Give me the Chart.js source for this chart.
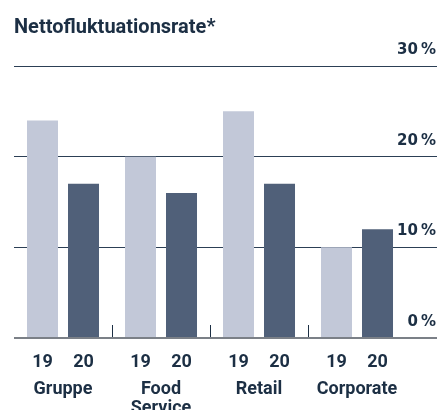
<!DOCTYPE html>
<html>
<head>
<meta charset="utf-8">
<script src="https://cdn.jsdelivr.net/npm/chart.js@4"></script>
<style>
  body { margin: 0; background: #fff; }
  #wrap { width: 438px; height: 410px; }
</style>
</head>
<body>
<div id="wrap"><canvas id="chart"></canvas></div>
<script>
let segments = ["Gruppe", ["Food", "Service"], "Retail", "Corporate"];
let years = ["19", "20"];
let rate2019 = [24, 20, 25, 10];
let rate2020 = [17, 16, 17, 12];
let percentTicks = [0, 10, 20, 30];

let navy = "#1c2f44";
let lineGrey = "#7b8087";

// year number under every bar, taken from the dataset label
let yearLabels = {
    id: "yearLabels",
    afterDraw(chart) {
        let ctx = chart.ctx;
        let top = chart.scales.x.top;
        ctx.save();
        ctx.font = "bold 18px Roboto";
        ctx.fillStyle = navy;
        ctx.textAlign = "center";
        ctx.textBaseline = "alphabetic";
        chart.data.datasets.forEach((ds, i) => {
            chart.getDatasetMeta(i).data.forEach(bar => {
                ctx.fillText(ds.label, bar.x, top + 29);
            });
        });
        ctx.restore();
    }
};

let ctx = document.getElementById("chart").getContext("2d");

let chart = new Chart(ctx, {
    type: "bar",
    data: {
        labels: segments,
        datasets: [
            {
                label: years[0],
                backgroundColor: "#c2c8d8",
                data: rate2019,
            },
            {
                label: years[1],
                backgroundColor: "#506079",
                data: rate2020,
            }
        ]
    },
    options: {
        responsive: true,
        maintainAspectRatio: false,
        animation: false,
        categoryPercentage: 0.837,
        barPercentage: 0.756,
        layout: { padding: { left: 14, right: 1, top: 0, bottom: 0 } },
        plugins: {
            legend: { display: false },
            tooltip: { enabled: false },
            title: {
                display: true,
                text: "Nettofluktuationsrate*",
                align: "start",
                color: navy,
                font: { family: "Roboto", size: 20, weight: "bold", lineHeight: 1.2 },
                padding: { top: 16, bottom: 26 }
            }
        },
        scales: {
            x: {
                border: { display: false },
                grid: {
                    offset: true,
                    drawOnChartArea: false,
                    drawTicks: true,
                    tickLength: -13,
                    color: c => (c.index > 0 ? navy : "transparent"),
                    lineWidth: 1
                },
                ticks: {
                    color: navy,
                    padding: 55,
                    maxRotation: 0,
                    font: { family: "Roboto", size: 18, weight: "bold", lineHeight: 1.05 }
                },
                afterFit: s => {
                    s.height = 72;
                    s.paddingLeft = 0;
                    s.paddingRight = 0;
                }
            },
            y: {
                position: "right",
                min: 0,
                max: 30,
                border: { display: false },
                grid: {
                    color: c => (c.tick && c.tick.value === 0 ? lineGrey : "#2c3f55"),
                    lineWidth: c => (c.tick && c.tick.value === 0 ? 2 : 1),
                    tickLength: 31,
                    drawTicks: true
                },
                afterBuildTicks: s => { s.ticks = percentTicks.map(v => ({ value: v })); },
                ticks: {
                    color: navy,
                    mirror: true,
                    padding: 30,
                    labelOffset: -16,
                    font: { family: "DejaVu Sans", size: 15, weight: "bold" },
                    callback: v => v + "\u2009%"
                },
                afterFit: s => { s.width = 31; }
            }
        }
    },
    plugins: [yearLabels]
});
</script>
</body>
</html>
